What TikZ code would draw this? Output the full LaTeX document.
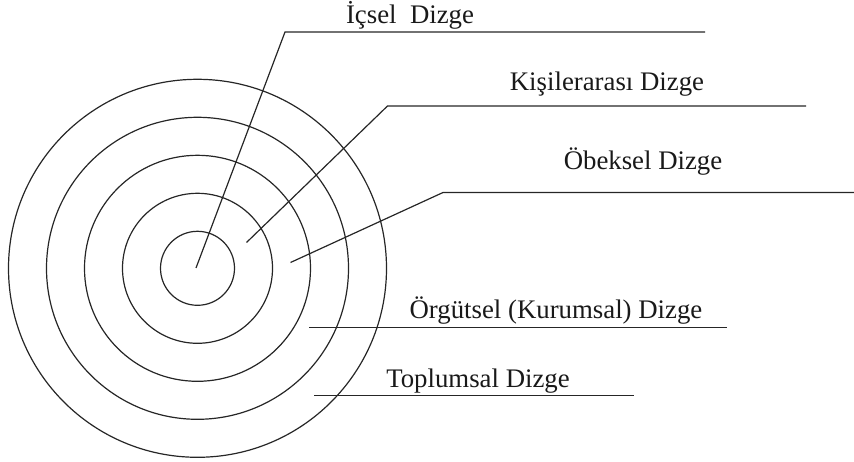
\documentclass[tikz,border=0pt]{standalone}
\usepackage{fontspec}
\setmainfont{Liberation Serif}
\begin{document}
\begin{tikzpicture}[x=1pt,y=-1pt,
  ring/.style={draw=black!85,line width=1.2pt},
  lead/.style={draw=black!85,line width=1.2pt},
  lbl/.style={anchor=base,inner sep=0pt,font=\fontsize{26.8}{32}\selectfont,text=black!90}]
\useasboundingbox (0,0) rectangle (854,462);
\coordinate (c) at (197.5,268.3);
\foreach \r in {37,75,113,151,189} \draw[ring] (c) circle[radius=\r];
% İçsel
\coordinate (a0) at (196,268);
\coordinate (a1) at (285,32);
\coordinate (a2) at (705,32);
\draw[lead] (a0) -- (a1) -- (a2);
\node[lbl] (ta) at (410,24) {İçsel\ \ Dizge};
% Kişilerarası
\coordinate (b0) at (246.5,242.5);
\coordinate (b1) at (387.5,106);
\coordinate (b2) at (806,106);
\draw[lead] (b0) -- (b1) -- (b2);
\node[lbl] (tb) at (607,91) {Kişilerarası Dizge};
% Öbeksel
\coordinate (d0) at (290.5,262.5);
\coordinate (d1) at (443,192.5);
\coordinate (d2) at (854,192.5);
\draw[lead] (d0) -- (d1) -- (d2);
\node[lbl] (td) at (643,170) {Öbeksel Dizge};
% Örgütsel
\coordinate (e0) at (309,327.3);
\coordinate (e1) at (727,327.3);
\draw[lead] (e0) -- (e1);
\node[lbl] (te) at (556,318.5) {Örgütsel (Kurumsal) Dizge};
% Toplumsal
\coordinate (f0) at (314,395.5);
\coordinate (f1) at (634,395.5);
\draw[lead] (f0) -- (f1);
\node[lbl] (tf) at (478,387) {Toplumsal Dizge};
\end{tikzpicture}
\end{document}
